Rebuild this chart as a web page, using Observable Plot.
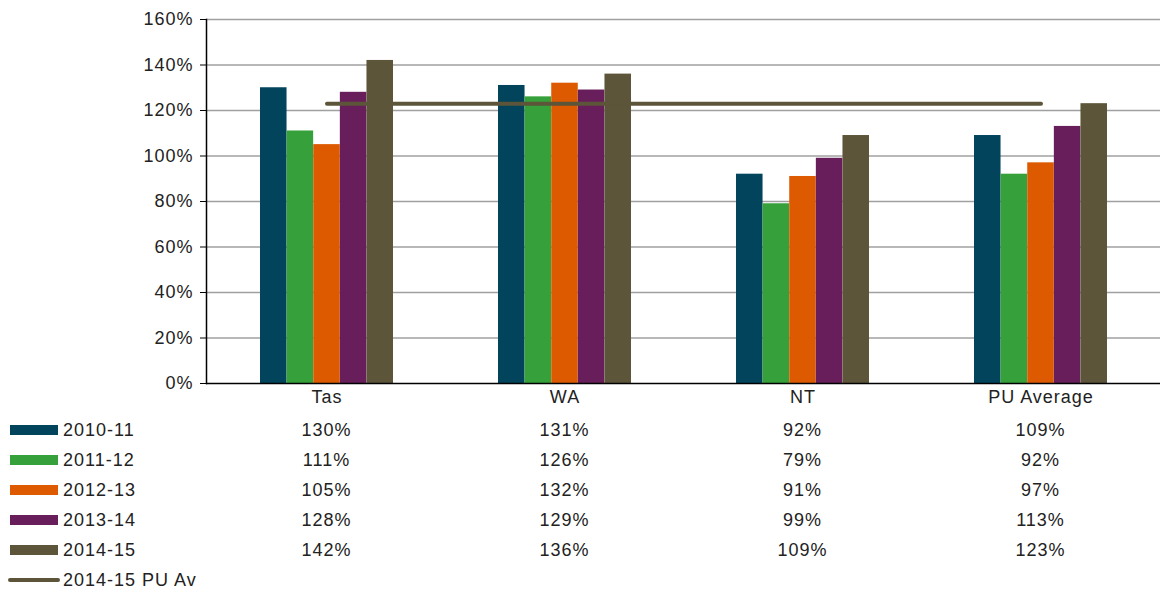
<!DOCTYPE html>
<html><head><meta charset="utf-8">
<script src="https://cdn.jsdelivr.net/npm/d3@7"></script>
<script src="https://cdn.jsdelivr.net/npm/@observablehq/plot@0.6"></script>
<style>
body{margin:0;background:#fff;font-family:"Liberation Sans",Arial,sans-serif;}
#wrap{position:relative;width:1161px;height:589px;overflow:hidden;}
#chart{position:absolute;left:0;top:0;}
.t{position:absolute;font-size:18px;letter-spacing:1px;color:#222;white-space:nowrap;line-height:20px;}
.sw{position:absolute;}
</style></head><body><div id="wrap"><div id="chart"></div></div>
<script>
const categories = ["Tas", "WA", "NT", "PU Average"];
const seriesNames = ["2010-11", "2011-12", "2012-13", "2013-14", "2014-15"];
const seriesColors = ["#01445b", "#36a03a", "#dd5a00", "#681e5a", "#5c553a"];
const values2010_11 = [130, 131, 92, 109];
const values2011_12 = [111, 126, 79, 92];
const values2012_13 = [105, 132, 91, 97];
const values2013_14 = [128, 129, 99, 113];
const values2014_15 = [142, 136, 109, 123];
const seriesValues = [values2010_11, values2011_12, values2012_13, values2013_14, values2014_15];
const lineName = "2014-15 PU Av";
const lineColor = "#5c553a";
const puAverage2014_15 = 123;
const yTicks = [0, 20, 40, 60, 80, 100, 120, 140, 160];

const W = 1161, H = 410, ML = 206, MR = 1, MT = 19, MB = 27;
const padInner = 0.442;
const nS = seriesNames.length;
const bw = ((W - ML - MR) / categories.length) * (1 - padInner) / nS;

const rows = [];
seriesNames.forEach((s, i) => categories.forEach((c, j) => rows.push({series: s, category: c, value: seriesValues[i][j]})));
const lineData = categories.map(c => ({category: c, value: puAverage2014_15}));

const plot = Plot.plot({
  width: W, height: H, marginLeft: ML, marginRight: MR, marginTop: MT, marginBottom: MB,
  style: {fontFamily: "'Liberation Sans', Arial, sans-serif", fontSize: "18px", letterSpacing: "1px", color: "#222", background: "transparent"},
  x: {domain: categories, paddingInner: padInner, paddingOuter: padInner / 2, label: null},
  y: {domain: [0, 160], label: null},
  marks: [
    Plot.gridY(yTicks.filter(d => d > 0), {stroke: "#a0a0a0", strokeOpacity: 1, strokeWidth: 1.5}),
    ...seriesNames.map((s, i) => Plot.barY(rows.filter(r => r.series === s), {
      x: "category", y: "value", fill: seriesColors[i],
      insetLeft: i * bw, insetRight: (nS - 1 - i) * bw
    })),
    Plot.lineY(lineData, {x: "category", y: "value", stroke: lineColor, strokeWidth: 4, strokeLinecap: "round"}),
    Plot.axisY({ticks: yTicks, tickFormat: d => d + "%", tickSize: 6, tickPadding: 7, label: null, stroke: "#000"}),
    Plot.axisX({tickSize: 0, tickPadding: 7, label: null}),
    Plot.ruleY([0], {stroke: "#000", strokeWidth: 1.5}),
    Plot.frame({anchor: "left", stroke: "#000", strokeWidth: 1.5})
  ]
});
document.getElementById("chart").appendChild(plot);

const xs = plot.scale("x");
const wrap = document.getElementById("wrap");
const rowY = [430, 460, 490, 520, 550, 580];
seriesNames.forEach((s, i) => {
  const sw = document.createElement("div");
  sw.className = "sw";
  Object.assign(sw.style, {left: "10px", top: (rowY[i] - 5) + "px", width: "48px", height: "10px", background: seriesColors[i]});
  wrap.appendChild(sw);
  const lb = document.createElement("div");
  lb.className = "t"; lb.textContent = s;
  Object.assign(lb.style, {left: "63px", top: (rowY[i] - 10) + "px"});
  wrap.appendChild(lb);
  categories.forEach((c, j) => {
    const v = document.createElement("div");
    v.className = "t"; v.textContent = seriesValues[i][j] + "%";
    const cx = xs.apply(c) + xs.bandwidth / 2;
    Object.assign(v.style, {left: (cx - 50) + "px", width: "100px", textAlign: "center", top: (rowY[i] - 10) + "px"});
    wrap.appendChild(v);
  });
});
const ls = document.createElement("div");
ls.className = "sw";
Object.assign(ls.style, {left: "8px", top: (rowY[5] - 2) + "px", width: "52px", height: "4px", background: lineColor, borderRadius: "2px"});
wrap.appendChild(ls);
const ll = document.createElement("div");
ll.className = "t"; ll.textContent = lineName;
Object.assign(ll.style, {left: "63px", top: (rowY[5] - 10) + "px"});
wrap.appendChild(ll);
</script>
</body></html>
